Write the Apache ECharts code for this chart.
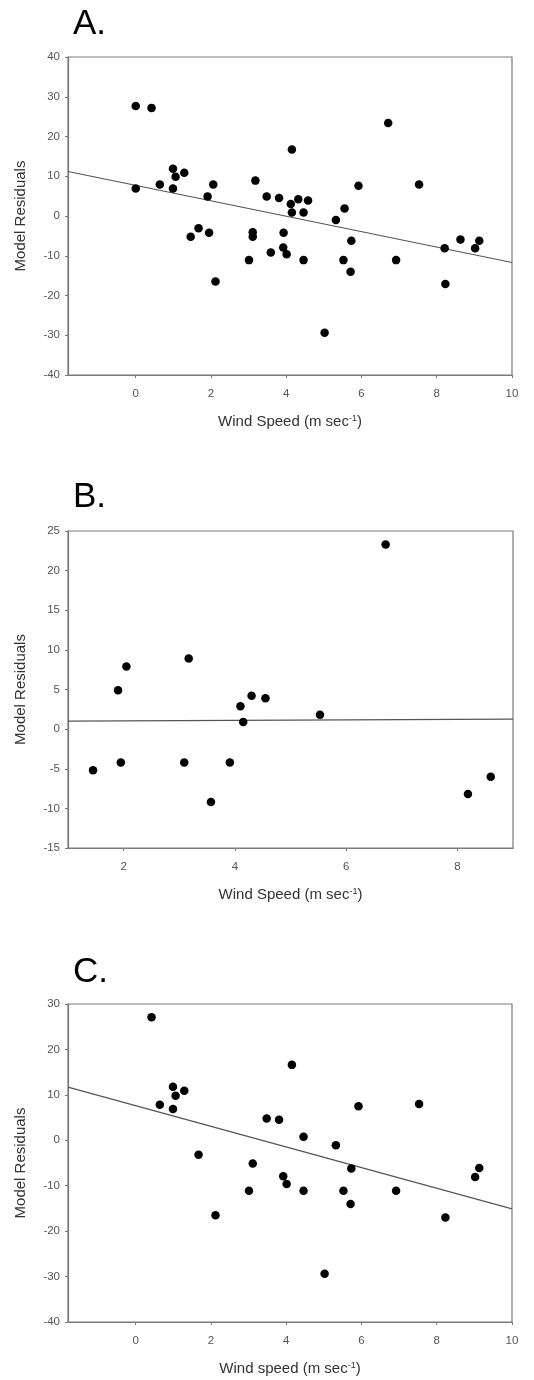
<!DOCTYPE html>
<html>
<head>
<meta charset="utf-8">
<style>
  html, body { margin: 0; padding: 0; background: #fff; }
  #chart { width: 534px; height: 1380px; }
</style>
<script src="https://cdn.jsdelivr.net/npm/echarts@6/dist/echarts.min.js"></script>
</head>
<body>
<div id="chart"></div>
<script>
// Panel A: all observations
const windA = [0, 0.42, 0, 0.64, 0.99, 0.99, 1.06, 1.29, 1.46, 1.67, 1.91, 1.95, 2.06, 2.12, 3.01, 3.11, 3.11, 3.18, 3.48, 3.59, 3.81, 3.92, 3.93, 4.01, 4.12, 4.15, 4.15, 4.32, 4.46, 4.46, 4.58, 5.02, 5.32, 5.52, 5.55, 5.71, 5.73, 5.92, 6.71, 6.92, 7.53, 8.21, 8.23, 8.63, 9.02, 9.13];
const residA = [27.7, 27.2, 6.9, 7.9, 11.9, 6.9, 9.9, 10.9, -5.2, -3.1, 4.9, -4.2, 7.9, -16.5, -11.1, -4.1, -5.2, 8.9, 4.9, -9.2, 4.5, -7.9, -4.2, -9.6, 3.0, 16.7, 0.9, 4.2, 0.9, -11.1, 3.9, -29.4, -1.0, -11.1, 1.9, -14.0, -6.2, 7.6, 23.4, -11.1, 7.9, -8.1, -17.1, -5.9, -8.1, -6.2];
const fitA = [[-1.8, 11.2], [10, -11.7]];

// Panel B
const windB = [1.45, 1.90, 1.95, 2.05, 3.09, 3.17, 3.57, 3.91, 4.10, 4.15, 4.30, 4.55, 5.53, 6.71, 8.19, 8.60];
const residB = [-5.2, 4.9, -4.2, 7.9, -4.2, 8.9, -9.2, -4.2, 2.9, 0.9, 4.2, 3.9, 1.8, 23.3, -8.2, -6.0];
const fitB = [[1, 1.0], [9, 1.25]];

// Panel C
const windC = [0.42, 0.64, 0.99, 0.99, 1.06, 1.29, 1.67, 2.12, 3.01, 3.11, 3.48, 3.81, 3.92, 4.01, 4.15, 4.46, 4.46, 5.02, 5.32, 5.52, 5.71, 5.73, 5.92, 6.92, 7.53, 8.23, 9.02, 9.13];
const residC = [27.1, 7.8, 11.8, 6.9, 9.8, 10.9, -3.2, -16.5, -11.1, -5.1, 4.8, 4.5, -7.9, -9.6, 16.6, 0.8, -11.1, -29.4, -1.1, -11.1, -14.0, -6.2, 7.5, -11.1, 8.0, -17.0, -8.1, -6.1];
const fitC = [[-1.8, 11.7], [10, -15.1]];

// Tick labels
const xTicksAC = [0, 2, 4, 6, 8, 10];
const xTicksB = [2, 4, 6, 8];

const panelLetters = ['A.', 'B.', 'C.'];
const xTitles = ['Wind Speed (m sec{sup|-1})', 'Wind Speed (m sec{sup|-1})', 'Wind speed (m sec{sup|-1})'];
const yTitle = 'Model Residuals';

const FONT = '"Liberation Sans", Arial, Helvetica, sans-serif';
const AXIS_COLOR = '#7a7a7a';

function pairs(xs, ys) { return xs.map((x, i) => [x, ys[i]]); }

const grids = [
  { left: 68, top: 57, width: 444, height: 318 },
  { left: 68, top: 531, width: 445, height: 317 },
  { left: 68, top: 1004, width: 444, height: 318 }
].map(g => Object.assign(g, {
  show: true, borderColor: AXIS_COLOR, borderWidth: 1.2, backgroundColor: '#fff',
  containLabel: false, outerBoundsMode: 'none'
}));

function xAxis(idx, min, max, ticks) {
  return {
    gridIndex: idx, type: 'value', min: min, max: max,
    axisLine: { show: true, onZero: false, lineStyle: { color: AXIS_COLOR, width: 1.2 } },
    axisTick: { show: true, length: 3, customValues: ticks, lineStyle: { color: AXIS_COLOR } },
    axisLabel: { customValues: ticks, margin: 13, color: '#555', fontSize: 11.5, fontFamily: FONT },
    splitLine: { show: false },
    name: xTitles[idx], nameLocation: 'middle', nameGap: 39,
    nameTextStyle: {
      color: '#333', fontSize: 15, fontFamily: FONT,
      rich: { sup: { fontSize: 9, verticalAlign: 'top', color: '#333', fontFamily: FONT } }
    }
  };
}

function yAxis(idx, min, max, interval) {
  return {
    gridIndex: idx, type: 'value', min: min, max: max, interval: interval,
    axisLine: { show: true, onZero: false, lineStyle: { color: AXIS_COLOR, width: 1.2 } },
    axisTick: { show: true, length: 3, lineStyle: { color: AXIS_COLOR } },
    axisLabel: { margin: 8, color: '#555', fontSize: 11.5, fontFamily: FONT },
    splitLine: { show: false },
    name: yTitle, nameLocation: 'middle', nameGap: 40,
    nameTextStyle: { color: '#333', fontSize: 15, fontFamily: FONT }
  };
}

function scatter(idx, xs, ys) {
  return {
    type: 'scatter', xAxisIndex: idx, yAxisIndex: idx,
    data: pairs(xs, ys), symbol: 'circle', symbolSize: 8.5,
    itemStyle: { color: '#000', opacity: 1 }, z: 3
  };
}

function fitLine(idx, pts) {
  return {
    type: 'line', xAxisIndex: idx, yAxisIndex: idx,
    data: pts, showSymbol: false, symbol: 'none',
    lineStyle: { color: '#555', width: 1.2 }, z: 2, silent: true
  };
}

const letterY = [24, 497, 972];
const graphics = panelLetters.map((t, i) => ({
  type: 'text', x: 73, y: letterY[i],
  style: {
    text: t, fill: '#000', font: '35px ' + FONT,
    verticalAlign: 'middle', textVerticalAlign: 'middle'
  }
}));

const chart = echarts.init(document.getElementById('chart'), null, { renderer: 'canvas' });
chart.setOption({
  animation: false,
  backgroundColor: '#fff',
  grid: grids,
  xAxis: [xAxis(0, -1.8, 10, xTicksAC), xAxis(1, 1, 9, xTicksB), xAxis(2, -1.8, 10, xTicksAC)],
  yAxis: [yAxis(0, -40, 40, 10), yAxis(1, -15, 25, 5), yAxis(2, -40, 30, 10)],
  series: [
    fitLine(0, fitA), scatter(0, windA, residA),
    fitLine(1, fitB), scatter(1, windB, residB),
    fitLine(2, fitC), scatter(2, windC, residC)
  ],
  graphic: graphics
});
</script>
</body>
</html>
